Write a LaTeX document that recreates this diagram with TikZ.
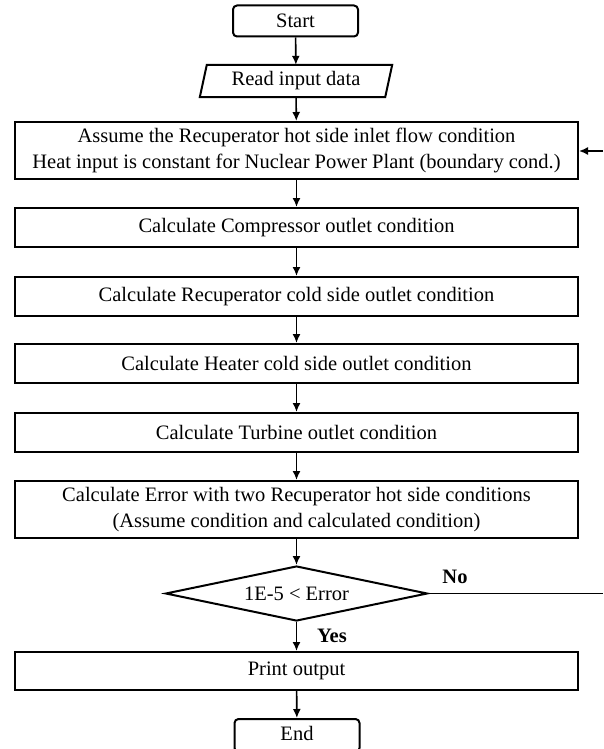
\documentclass[tikz,border=0pt]{standalone}
\usepackage{fontspec}
\setmainfont{Liberation Serif}
\usetikzlibrary{arrows.meta,shapes.geometric}
\begin{document}
\begin{tikzpicture}[x=1pt,y=-1pt,
  every node/.style={font=\fontsize{20.5}{26}\selectfont},
  procbox/.style={draw,line width=2pt,rectangle,minimum width=563pt,inner sep=0pt,align=center},
  termbox/.style={draw,line width=2pt,rectangle,rounded corners=4pt,minimum width=125pt,minimum height=31pt,inner sep=0pt},
  decbox/.style={draw,line width=2pt,diamond,aspect=4.76,minimum width=262pt,minimum height=55pt,inner sep=0pt},
  flow/.style={line width=1.6pt,-{Latex[length=9pt,width=8pt]}},
  plain/.style={line width=1.6pt},
  lbl/.style={font=\fontsize{20.5}{26}\selectfont\bfseries,inner sep=0pt}]
\useasboundingbox (0,0) rectangle (603,749);
\fill[white] (0,0) rectangle (603,749);
\node[termbox] (start) at (295.5,21) {Start};
\node[minimum width=185pt,minimum height=32pt,inner sep=0pt] (read) at (296,81) {Read input data};
\draw[line width=2pt,line join=miter] ([xshift=-3.5pt]read.south west) -- ([xshift=3.5pt]read.north west) -- ([xshift=3.5pt]read.north east) -- ([xshift=-3.5pt]read.south east) -- cycle;
\node[procbox,minimum height=57pt] (assume) at (296.5,150.5) {Assume the Recuperator hot side inlet flow condition\\Heat input is constant for Nuclear Power Plant (boundary cond.)};
\node[procbox,minimum height=39pt] (comp) at (296.5,227.5) {Calculate Compressor outlet condition};
\node[procbox,minimum height=39pt] (recup) at (296.5,296.5) {Calculate Recuperator cold side outlet condition};
\node[procbox,minimum height=39pt] (heater) at (296.5,363.5) {Calculate Heater cold side outlet condition};
\node[procbox,minimum height=39pt] (turb) at (296.5,432.5) {Calculate Turbine outlet condition};
\node[procbox,minimum height=57pt] (err) at (296.5,509.5) {Calculate Error with two Recuperator hot side conditions\\(Assume condition and calculated condition)};
\node[decbox] (dec) at (296.5,593.5) {1E-5 < Error};
\node[procbox,minimum height=38pt] (print) at (296.5,671) {Print output};
\node[termbox,minimum height=33pt] (end) at (297,735.5) {};
\node (endtxt) at (297,733) {End};
\coordinate (noend) at (603,593.5);
\coordinate (backin) at (603,151);
\draw[flow] (start) -- (read);
\draw[flow] (read) -- (assume);
\draw[flow] (assume) -- (comp);
\draw[flow] (comp) -- (recup);
\draw[flow] (recup) -- (heater);
\draw[flow] (heater) -- (turb);
\draw[flow] (turb) -- (err);
\draw[flow] (err) -- (dec);
\draw[flow] (dec) -- (print);
\draw[flow] (print) -- (end);
\draw[plain] (dec.east) -- (noend);
\draw[flow] (backin) -- (assume.east |- backin);
\node[lbl] (nolbl) at (455,577) {No};
\node[lbl] (yeslbl) at (332,636) {Yes};
\end{tikzpicture}
\end{document}
